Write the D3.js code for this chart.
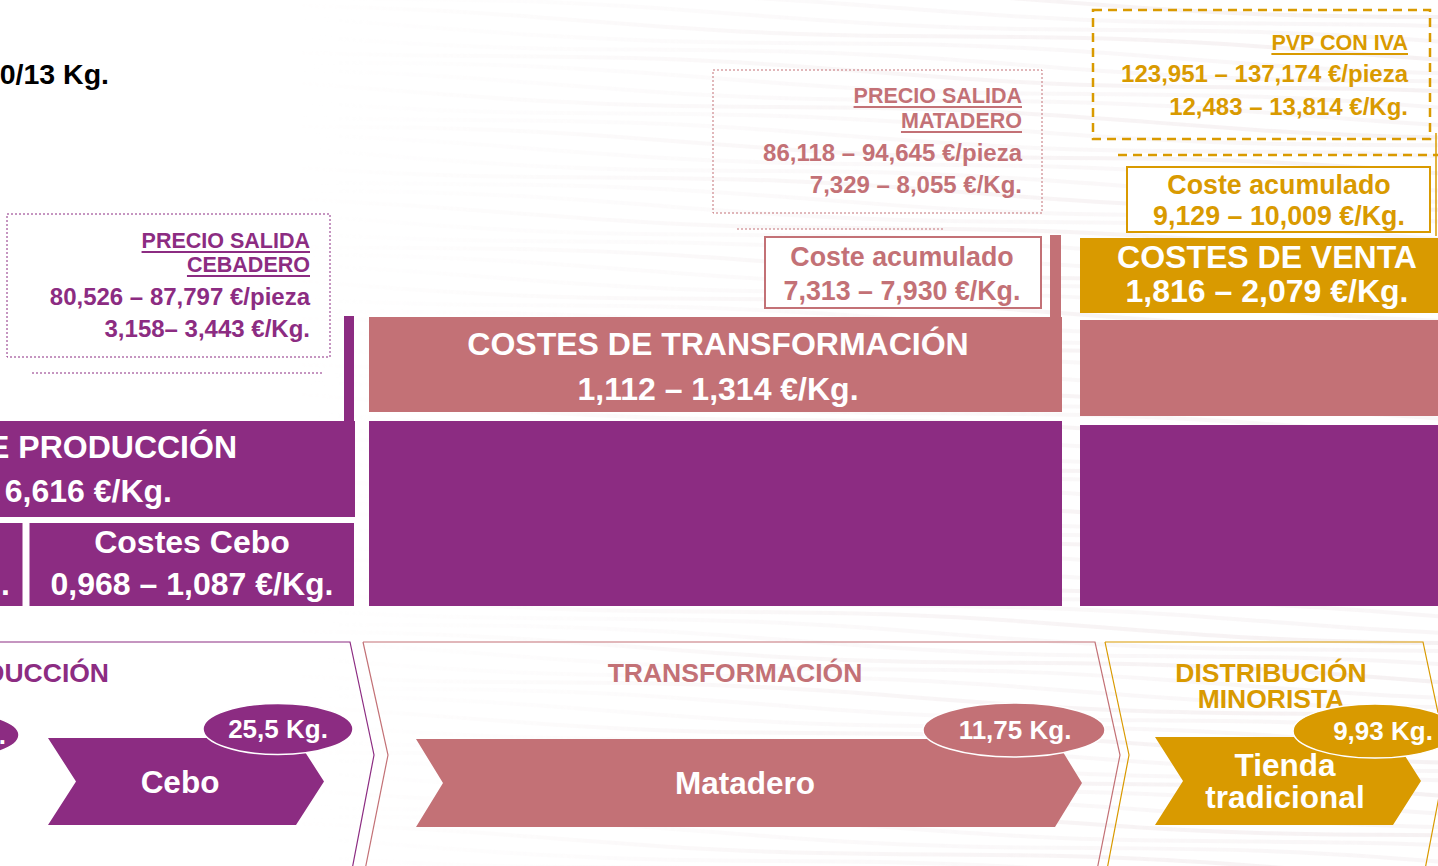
<!DOCTYPE html>
<html>
<head>
<meta charset="utf-8">
<script src="https://cdn.jsdelivr.net/npm/d3@7"></script>
<style>
  html, body { margin: 0; padding: 0; background: #fff; overflow: hidden; }
  svg { display: block; font-family: "Liberation Sans", Arial, sans-serif; font-weight: bold; }
</style>
</head>
<body>
<div id="chart"></div>
<script>
// datos de la cadena de valor
const stages = [["PRODUCCIÓN"], ["TRANSFORMACIÓN"], ["DISTRIBUCIÓN", "MINORISTA"]];
const steps = [["Cebo"], ["Matadero"], ["Tienda", "tradicional"]];
const stepWeights = ["25,5 Kg.", "11,75 Kg.", "9,93 Kg."];
const priceTitles = [["PRECIO SALIDA", "CEBADERO"], ["PRECIO SALIDA", "MATADERO"], ["PVP CON IVA"]];
const pricePiece = ["80,526 – 87,797 €/pieza", "86,118 – 94,645 €/pieza", "123,951 – 137,174 €/pieza"];
const priceKg = ["3,158– 3,443 €/Kg.", "7,329 – 8,055 €/Kg.", "12,483 – 13,814 €/Kg."];
const accumCost = [null, "7,313 – 7,930 €/Kg.", "9,129 – 10,009 €/Kg."];
const costTitles = ["DE PRODUCCIÓN", "COSTES DE TRANSFORMACIÓN", "COSTES DE VENTA"];
const costRanges = ["6,616 €/Kg.", "1,112 – 1,314 €/Kg.", "1,816 – 2,079 €/Kg."];
const subCostTitles = ["Costes Cebo"];
const subCostRanges = ["0,968 – 1,087 €/Kg."];
const headWeight = "0/13 Kg.";
const prevWeight = "Kg.";

let width = 1438;
let height = 866;

let color = {
  purple: '#8c2c82',
  rose: '#c37176',
  gold: '#d99a00'
};
const stageColor = d3.scaleOrdinal().domain([0, 1, 2]).range([color.purple, color.rose, color.gold]);

const svg = d3.select("#chart").append("svg")
  .attr("width", width)
  .attr("height", height);

// fondo texturizado
const defs = svg.append("defs");
const grad = defs.append("linearGradient").attr("id", "fade");
grad.append("stop").attr("offset", "0").attr("stop-color", "#fff").attr("stop-opacity", 0);
grad.append("stop").attr("offset", "0.45").attr("stop-color", "#fff").attr("stop-opacity", 0.6);
grad.append("stop").attr("offset", "1").attr("stop-color", "#fff").attr("stop-opacity", 1);
defs.append("mask").attr("id", "texmask")
  .append("rect").attr("x", 300).attr("y", 0).attr("width", 1140).attr("height", height)
  .attr("fill", "url(#fade)");

const tex = svg.append("g").attr("class", "texture").attr("mask", "url(#texmask)");
const wave = d3.line().curve(d3.curveBasis);
d3.range(0, 70).forEach(i => {
  const y0 = i * 13 - 30;
  const pts = d3.range(0, 11).map(k => [300 + k * 120, y0 + k * 5 + Math.sin(i * 1.3 + k) * 5]);
  tex.append("path")
    .attr("d", wave(pts))
    .attr("fill", "none")
    .attr("stroke", i % 3 ? "#f4eef0" : "#eee5e8")
    .attr("stroke-width", 4)
    .attr("opacity", 0.55);
});

let txt = (g, x, y, s, size, fill, anchor) => g.append("text")
  .attr("x", x).attr("y", y)
  .attr("font-size", size)
  .attr("fill", fill)
  .attr("text-anchor", anchor || "middle")
  .text(s);

// cabecera recortada
txt(svg, 109, 84, headWeight, 28.5, "#000", "end");

// cajas de precio
const priceBoxes = [
  { x: 7, y: 214, w: 323, h: 143, right: 310, base: [248, 272, 305, 337], dash: "2,2", sw: 1, line: [32, 323, 373] },
  { x: 713, y: 70, w: 329, h: 143, right: 1022, base: [103, 128, 161, 193], dash: "2,2", sw: 1, line: [737, 945, 229] },
  { x: 1093, y: 10, w: 337, h: 129, right: 1408, base: [50, 82, 115], dash: "9,6", sw: 2.5, line: [1118, 1440, 155] }
];

priceBoxes.forEach((b, i) => {
  const g = svg.append("g");
  const c = stageColor(i);
  g.append("rect")
    .attr("x", b.x).attr("y", b.y).attr("width", b.w).attr("height", b.h)
    .attr("fill", "none").attr("stroke", c)
    .attr("stroke-width", b.sw).attr("stroke-dasharray", b.dash);
  g.append("line")
    .attr("x1", b.line[0]).attr("x2", b.line[1])
    .attr("y1", b.line[2]).attr("y2", b.line[2])
    .attr("stroke", c).attr("stroke-width", b.sw).attr("stroke-dasharray", b.dash);
  const lines = priceTitles[i];
  lines.forEach((s, k) => {
    const t = txt(g, b.right, b.base[k], s, 21.5, c, "end");
    const w = t.node().getComputedTextLength();
    g.append("line")
      .attr("x1", b.right - w).attr("x2", b.right)
      .attr("y1", b.base[k] + 4).attr("y2", b.base[k] + 4)
      .attr("stroke", c).attr("stroke-width", 2);
  });
  txt(g, b.right, b.base[lines.length], pricePiece[i], 24, c, "end");
  txt(g, b.right, b.base[lines.length + 1], priceKg[i], 24, c, "end");
});

// bloques de costes
const blocks = [
  { x0: -20, x1: 355, y0: 421, y1: 517, c: 0 },
  { x0: -20, x1: 22.5, y0: 523, y1: 606, c: 0 },
  { x0: 29.5, x1: 354, y0: 523, y1: 606, c: 0 },
  { x0: 344, x1: 354, y0: 316, y1: 421, c: 0 },
  { x0: 369, x1: 1062, y0: 421, y1: 606, c: 0 },
  { x0: 369, x1: 1062, y0: 317, y1: 412, c: 1 },
  { x0: 1050, x1: 1061, y0: 235, y1: 317, c: 1 },
  { x0: 1080, x1: 1440, y0: 425, y1: 606, c: 0 },
  { x0: 1080, x1: 1440, y0: 320, y1: 416, c: 1 },
  { x0: 1080, x1: 1440, y0: 238, y1: 313, c: 2 }
];

svg.append("g").selectAll("rect")
  .data(blocks)
  .enter().append("rect")
  .attr("x", d => d.x0).attr("y", d => d.y0)
  .attr("width", d => d.x1 - d.x0).attr("height", d => d.y1 - d.y0)
  .attr("fill", d => stageColor(d.c));

svg.append("line")
  .attr("x1", 1436).attr("x2", 1436).attr("y1", 133).attr("y2", 236)
  .attr("stroke", color.gold).attr("stroke-width", 1.5);

const costText = [
  { x: 237, a: "end", y: [458, 502], x2: 172 },
  { x: 718, a: "middle", y: [355, 400], x2: 718 },
  { x: 1267, a: "middle", y: [268, 302], x2: 1267 }
];
costText.forEach((p, i) => {
  txt(svg, p.x, p.y[0], costTitles[i], 32, "#fff", p.a);
  txt(svg, p.x2, p.y[1], costRanges[i], 32, "#fff", p.a);
});
txt(svg, 192, 553, subCostTitles[0], 32, "#fff");
txt(svg, 192, 595, subCostRanges[0], 32, "#fff");
txt(svg, 10, 595, "€/Kg.", 32, "#fff", "end");

// coste acumulado
const accumBoxes = [null,
  { x: 765, y: 237, w: 276, h: 71, cx: 902, base: [266, 300] },
  { x: 1127, y: 167, w: 303, h: 65, cx: 1279, base: [194, 225] }
];
accumBoxes.forEach((b, i) => {
  if (!b) return;
  const c = stageColor(i);
  svg.append("rect")
    .attr("x", b.x).attr("y", b.y).attr("width", b.w).attr("height", b.h)
    .attr("fill", "#fff").attr("stroke", c).attr("stroke-width", 2);
  txt(svg, b.cx, b.base[0], "Coste acumulado", 26.8, c);
  txt(svg, b.cx, b.base[1], accumCost[i], 26.8, c);
});

// etapas inferiores
const outlines = [
  "M-10,642H350L374,755L350,880",
  "M363,642L388,755L363,880M363,642H1095L1120,755L1095,880",
  "M1105,642L1129,755L1105,880M1105,642H1423L1447,755L1423,880"
];
svg.append("g").selectAll("path")
  .data(outlines)
  .enter().append("path")
  .attr("d", d => d)
  .attr("fill", "none")
  .attr("stroke", (d, i) => stageColor(i))
  .attr("stroke-width", 1.2);

const stageText = [
  { x: 109, a: "end", y: [682] },
  { x: 735, a: "middle", y: [682] },
  { x: 1271, a: "middle", y: [682, 708] }
];
stageText.forEach((p, i) => {
  stages[i].forEach((s, k) => txt(svg, p.x, p.y[k], s, 26.5, stageColor(i), p.a));
});

const chevrons = [
  { l: 48, r: 296, t: 738, b: 825, n: 28, cx: 180, base: [793] },
  { l: 416, r: 1055, t: 739, b: 827, n: 27, cx: 745, base: [794] },
  { l: 1155, r: 1393, t: 737, b: 825, n: 28, cx: 1285, base: [776, 808] }
];
chevrons.forEach((d, i) => {
  const m = (d.t + d.b) / 2;
  const pts = [[d.l, d.t], [d.r, d.t], [d.r + d.n, m], [d.r, d.b], [d.l, d.b], [d.l + d.n, m]];
  svg.append("path")
    .attr("d", d3.line()(pts) + "Z")
    .attr("fill", stageColor(i));
  steps[i].forEach((s, k) => txt(svg, d.cx, d.base[k], s, 31.5, "#fff"));
});

const ellipses = [
  { cx: 278, cy: 729, rx: 75, ry: 25.5, tx: 278, ty: 738 },
  { cx: 1014, cy: 730, rx: 91, ry: 27, tx: 1015, ty: 739 },
  { cx: 1375, cy: 731, rx: 82, ry: 27, tx: 1383, ty: 740 }
];
// elipse de la etapa anterior (recortada)
svg.append("ellipse")
  .attr("cx", -56).attr("cy", 735).attr("rx", 75).attr("ry", 24)
  .attr("fill", color.purple).attr("stroke", "#fff").attr("stroke-width", 1.5);
txt(svg, 6, 744, prevWeight, 26, "#fff", "end");

ellipses.forEach((e, i) => {
  svg.append("ellipse")
    .attr("cx", e.cx).attr("cy", e.cy).attr("rx", e.rx).attr("ry", e.ry)
    .attr("fill", stageColor(i)).attr("stroke", "#fff").attr("stroke-width", 1.5);
  txt(svg, e.tx, e.ty, stepWeights[i], 26, "#fff");
});
</script>
</body>
</html>
